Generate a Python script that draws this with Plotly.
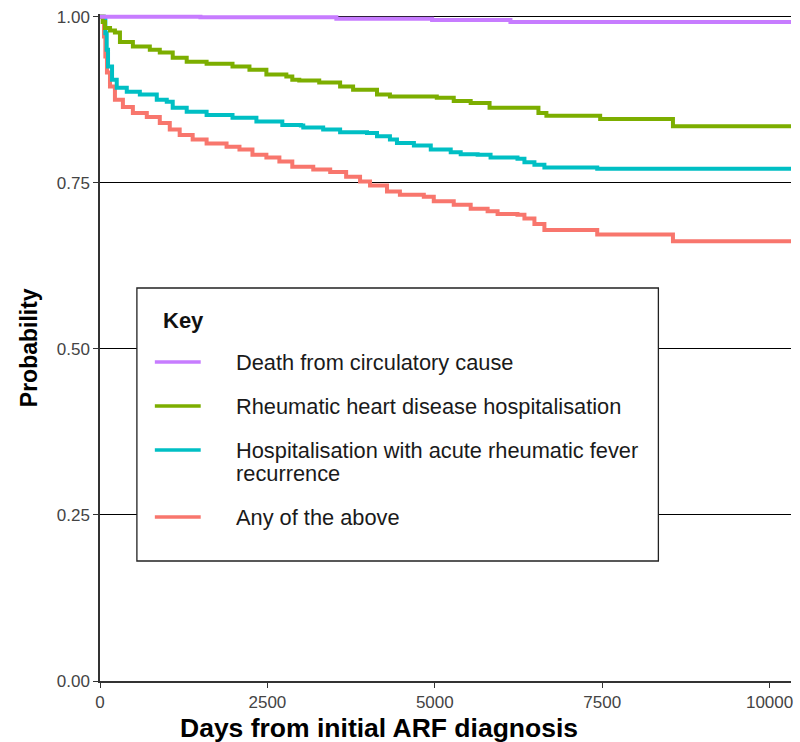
import plotly.graph_objects as go

# Kaplan-Meier style event-free probabilities (days since initial ARF diagnosis)
death_days = [0, 1500, 3530, 4960, 6130, 10320]
death_prob = [1.000, 0.999, 0.997, 0.995, 0.992, 0.992]

rhd_days = [0, 40, 75, 150, 223, 298, 491, 744, 893, 1086, 1295, 1592, 1979, 2232,
            2485, 2783, 2872, 2976, 3274, 3586, 3780, 4137, 4330, 5030, 5283, 5536,
            5818, 6548, 6667, 7470, 8557, 10320]
rhd_prob = [1.000, 0.992, 0.983, 0.979, 0.976, 0.962, 0.955, 0.950, 0.946, 0.938,
            0.932, 0.929, 0.925, 0.920, 0.913, 0.910, 0.905, 0.904, 0.901, 0.895,
            0.890, 0.883, 0.880, 0.878, 0.873, 0.870, 0.863, 0.855, 0.851, 0.846,
            0.835, 0.835]

arf_days = [0, 60, 80, 100, 120, 180, 250, 400, 595, 848, 997, 1086, 1295, 1592,
            1979, 2336, 2723, 3000, 3036, 3333, 3586, 3988, 4137, 4330, 4435, 4688,
            4940, 5238, 5387, 5640, 5833, 6235, 6339, 6488, 6637, 7426, 10320]
arf_prob = [1.000, 0.995, 0.975, 0.950, 0.925, 0.905, 0.893, 0.887, 0.883, 0.875,
            0.872, 0.863, 0.857, 0.852, 0.848, 0.842, 0.837, 0.836, 0.833, 0.830,
            0.826, 0.825, 0.820, 0.815, 0.810, 0.806, 0.800, 0.796, 0.793, 0.792,
            0.788, 0.786, 0.781, 0.777, 0.773, 0.771, 0.771]

any_days = [0, 60, 80, 104, 149, 223, 342, 491, 699, 893, 1042, 1190, 1384, 1592,
            1890, 2083, 2277, 2485, 2679, 2872, 3185, 3438, 3676, 3884, 4033, 4286,
            4479, 4836, 4985, 5283, 5536, 5789, 5938, 6235, 6339, 6488, 6637, 7426,
            8557, 10320]
any_prob = [1.000, 0.970, 0.940, 0.916, 0.895, 0.875, 0.864, 0.855, 0.849, 0.840,
            0.830, 0.822, 0.815, 0.809, 0.804, 0.800, 0.792, 0.788, 0.782, 0.774,
            0.770, 0.766, 0.759, 0.752, 0.746, 0.737, 0.732, 0.729, 0.722, 0.717,
            0.711, 0.707, 0.703, 0.702, 0.696, 0.688, 0.679, 0.672, 0.662, 0.662]

series_names = ["Death from circulatory cause",
                "Rheumatic heart disease hospitalisation",
                "Hospitalisation with acute rheumatic fever recurrence",
                "Any of the above"]
series_colors = ["#C77CFF", "#7CAE00", "#00BFC4", "#F8766D"]

x_ticks = [0, 2500, 5000, 7500, 10000]
y_ticks = [0.00, 0.25, 0.50, 0.75, 1.00]
y_tick_text = ["0.00", "0.25", "0.50", "0.75", "1.00"]

FONT = "Liberation Sans, Arial, sans-serif"
W, H = 800, 742
ML, MR, MT, MB = 100, 7, 14, 61
PW, PH = W - ML - MR, H - MT - MB


def px(x):
    return (x - ML) / PW


def py(y):
    return (H - MB - y) / PH


fig = go.Figure()
all_series = [(death_days, death_prob), (rhd_days, rhd_prob),
              (arf_days, arf_prob), (any_days, any_prob)]
# draw "any" first so the component curves sit on top where they overlap
for idx in [3, 2, 1, 0]:
    d, p = all_series[idx]
    fig.add_trace(go.Scatter(
        x=d, y=p, mode="lines", name=series_names[idx],
        line=dict(color=series_colors[idx], width=4, shape="hv"),
        showlegend=False, hoverinfo="x+y+name"))

shapes = []
annotations = []

# key box
shapes.append(dict(type="rect", xref="paper", yref="paper",
                   x0=px(137), x1=px(660), y0=py(561), y1=py(288),
                   fillcolor="white", line=dict(color="#222222", width=1.3),
                   layer="above"))
annotations.append(dict(xref="paper", yref="paper", x=px(161), y=py(320),
                        text="<b>Key</b>", showarrow=False, xanchor="left",
                        yanchor="middle", font=dict(family=FONT, size=22, color="#111111")))

key_rows = [362, 406, 450, 517]
for i, yrow in enumerate(key_rows):
    shapes.append(dict(type="line", xref="paper", yref="paper",
                       x0=px(155), x1=px(201), y0=py(yrow), y1=py(yrow),
                       line=dict(color=series_colors[i], width=3.5), layer="above"))

label_lines = [("Death from circulatory cause", 362),
               ("Rheumatic heart disease hospitalisation", 406),
               ("Hospitalisation with acute rheumatic fever", 450),
               ("recurrence", 473),
               ("Any of the above", 517)]
for txt, yrow in label_lines:
    annotations.append(dict(xref="paper", yref="paper", x=px(234), y=py(yrow),
                            text=txt, showarrow=False, xanchor="left",
                            yanchor="middle",
                            font=dict(family=FONT, size=21.8, color="#1a1a1a")))

# axis titles
annotations.append(dict(xref="paper", yref="paper", x=px(380), y=py(728),
                        text="<b>Days from initial ARF diagnosis</b>", showarrow=False,
                        xanchor="center", yanchor="middle",
                        font=dict(family=FONT, size=26.5, color="#000000")))
annotations.append(dict(xref="paper", yref="paper", x=px(29), y=py(348),
                        text="<b>Probability</b>", showarrow=False, textangle=-90,
                        xanchor="center", yanchor="middle",
                        font=dict(family=FONT, size=23, color="#000000")))

fig.update_layout(
    width=W, height=H,
    margin=dict(l=ML, r=MR, t=MT, b=MB, pad=0),
    paper_bgcolor="white", plot_bgcolor="white",
    font=dict(family=FONT),
    shapes=shapes, annotations=annotations,
    xaxis=dict(range=[0, 10320], tickvals=x_ticks, ticktext=[str(v) for v in x_ticks],
               showgrid=False, zeroline=False, showline=True, linecolor="#333333",
               linewidth=1.5, ticks="outside", ticklen=5, tickcolor="#333333",
               tickwidth=1, tickfont=dict(family=FONT, size=17, color="#444444")),
    yaxis=dict(range=[0, 1.004], tickvals=y_ticks, ticktext=y_tick_text,
               showgrid=True, gridcolor="#000000", gridwidth=1, zeroline=False,
               showline=True, linecolor="#333333", linewidth=1.5, ticks="outside",
               ticklen=5, tickcolor="#333333", tickwidth=1,
               tickfont=dict(family=FONT, size=17, color="#444444")),
)

fig.write_html("out.html")
